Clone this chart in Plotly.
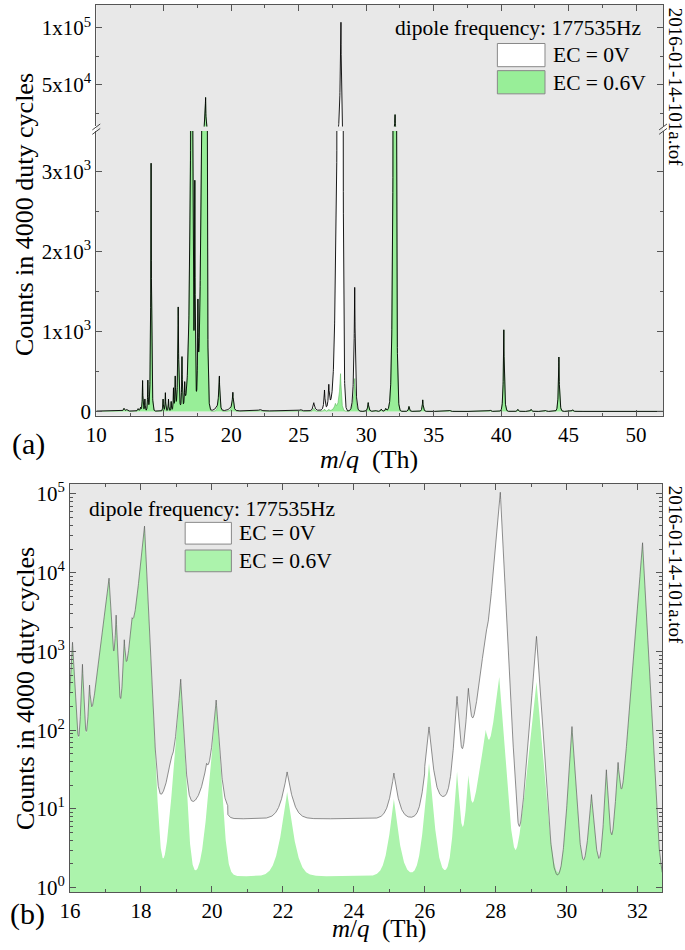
import numpy as np
import plotly.graph_objects as go

# ---------------- data ----------------
# peaks: centre (Th), height for EC = 0V, height for EC = 0.6V (counts),
# left / right exponential fall-off widths (Th)
peak_center = [12.05, 12.25, 13.10, 13.28, 13.43, 13.60, 13.82, 14.06, 14.95, 15.12,
               15.35, 15.55, 15.72, 15.85, 16.07, 16.35, 16.55, 17.10, 17.30, 17.53,
               17.75, 18.10, 18.85, 19.12, 19.85, 20.12, 22.12, 25.13, 26.12, 26.91,
               27.23, 27.72, 28.13, 28.10, 29.15, 29.15, 30.15, 30.70, 31.12, 31.45,
               32.14, 33.17, 34.19, 36.20, 39.20, 40.20, 41.24, 42.22, 43.30, 44.28,
               45.30]
peak_h_ec0 = [35, 20, 30, 45, 380, 150, 380, 3100, 150, 230,
              150, 120, 280, 420, 1300, 660, 280, 8500, 2700, 1100,
              1500, 39000, 25, 430, 20, 230, 22, 21, 97, 250,
              290, 1000, 105000, 0, 1550, 0, 110, 14, 30, 35,
              24000, 62, 144, 15, 18, 1020, 25, 25, 12, 680,
              20]
peak_h_ec06 = [35, 20, 30, 45, 380, 150, 380, 3100, 150, 230,
               150, 120, 280, 420, 1300, 660, 280, 8500, 2700, 1100,
               1500, 39000, 0, 430, 0, 230, 15, 12, 37, 28,
               22, 80, 0, 470, 0, 410, 110, 14, 30, 35,
               24000, 62, 144, 15, 18, 1020, 25, 25, 12, 680,
               20]
peak_w_left = [0.06, 0.06, 0.05, 0.05, 0.03, 0.03, 0.03, 0.04, 0.03, 0.03,
               0.03, 0.03, 0.03, 0.035, 0.05, 0.035, 0.035, 0.12, 0.035, 0.035,
               0.10, 0.10, 0.15, 0.075, 0.15, 0.08, 0.12, 0.10, 0.08, 0.06,
               0.06, 0.15, 0.085, 0.12, 0.075, 0.10, 0.06, 0.07, 0.05, 0.06,
               0.076, 0.05, 0.05, 0.05, 0.05, 0.05, 0.05, 0.05, 0.05, 0.05,
               0.05]
peak_w_right = [0.06, 0.06, 0.05, 0.05, 0.03, 0.03, 0.03, 0.04, 0.03, 0.03,
                0.03, 0.03, 0.03, 0.035, 0.05, 0.035, 0.035, 0.05, 0.035, 0.035,
                0.08, 0.045, 0.15, 0.05, 0.10, 0.06, 0.12, 0.10, 0.08, 0.06,
                0.06, 0.10, 0.048, 0.07, 0.063, 0.08, 0.06, 0.07, 0.05, 0.06,
                0.05, 0.05, 0.05, 0.05, 0.05, 0.05, 0.05, 0.05, 0.05, 0.05,
                0.05]
# background (noise floor) levels between these m/q edges
floor_edges = [10.0, 18.35, 20.45, 26.0, 27.0, 28.55, 29.5, 52.0]
floor_ec0 = [5, 10, 7.5, 13, 8, 2, 1.2]
floor_ec06 = [1.2, 1.4, 1.4, 1.4, 1.3, 1.2, 1.2]

x_ticks_a = [10, 15, 20, 25, 30, 35, 40, 45, 50]
x_minor_a = [12.5, 17.5, 22.5, 27.5, 32.5, 37.5, 42.5, 47.5]
y_ticks_a_low = [0, 1000, 2000, 3000]
y_text_a_low = ["0", "1x10<sup>3</sup>", "2x10<sup>3</sup>", "3x10<sup>3</sup>"]
y_minor_a_low = [500, 1500, 2500]
y_ticks_a_high = [50000, 100000]
y_text_a_high = ["5x10<sup>4</sup>", "1x10<sup>5</sup>"]
y_minor_a_high = [25000, 75000]
x_ticks_b = [16, 18, 20, 22, 24, 26, 28, 30, 32]
x_minor_b = [17, 19, 21, 23, 25, 27, 29, 31]
y_ticks_b = [1, 10, 100, 1000, 10000, 100000]
y_text_b = ["10<sup>0</sup>", "10<sup>1</sup>", "10<sup>2</sup>", "10<sup>3</sup>",
            "10<sup>4</sup>", "10<sup>5</sup>"]

# ---------------- build spectra ----------------
mq = np.union1d(np.round(np.arange(10.0, 52.0001, 0.005), 4), np.array(peak_center))
idx = np.clip(np.searchsorted(floor_edges, mq, side="right") - 1, 0, len(floor_ec0) - 1)


def spectrum(heights, floor):
    y = np.array(floor, dtype=float)[idx]
    for c, h, wl, wr in zip(peak_center, heights, peak_w_left, peak_w_right):
        if h <= 0:
            continue
        d = mq - c
        y = y + h * np.where(d < 0, np.exp(np.clip(d / wl, -700, 0)),
                             np.exp(np.clip(-d / wr, -700, 0)))
    return y


ec0 = spectrum(peak_h_ec0, floor_ec0)
ec06 = spectrum(peak_h_ec06, floor_ec06)

# ---------------- figure ----------------
W, H = 685, 950
FONT = "Liberation Serif, Times New Roman, serif"
GRAY_BG = "#e8e8e8"
GREEN_A = "#98ee98"
GREEN_B = "#acf3ac"
AX = "#555555"


def px(v):
    return v / W


def py(v):
    return 1 - v / H


fig = go.Figure()

for xa, ya in (("x", "y"), ("x2", "y3")):
    fig.add_trace(go.Scatter(x=mq, y=ec0, mode="lines", fill="tozeroy", fillcolor="white",
                             line=dict(width=0, color="white"), xaxis=xa, yaxis=ya,
                             showlegend=False, hoverinfo="skip"))
    fig.add_trace(go.Scatter(x=mq, y=ec06, mode="lines", fill="tozeroy", fillcolor=GREEN_A,
                             line=dict(width=0.6, color="#5cb85c"), xaxis=xa, yaxis=ya,
                             showlegend=False, hoverinfo="skip"))
    fig.add_trace(go.Scatter(x=mq, y=ec0, mode="lines",
                             line=dict(width=0.9, color="black"), xaxis=xa, yaxis=ya,
                             showlegend=False, hoverinfo="skip"))

sel = (mq >= 15.9) & (mq <= 32.8)
fig.add_trace(go.Scatter(x=mq[sel], y=ec0[sel], mode="lines", fill="tozeroy", fillcolor="white",
                         line=dict(width=0, color="white"), xaxis="x3", yaxis="y2",
                         showlegend=False, hoverinfo="skip"))
fig.add_trace(go.Scatter(x=mq[sel], y=ec06[sel], mode="lines", fill="tozeroy", fillcolor=GREEN_B,
                         line=dict(width=0, color=GREEN_B), xaxis="x3", yaxis="y2",
                         showlegend=False, hoverinfo="skip"))
fig.add_trace(go.Scatter(x=mq[sel], y=ec0[sel], mode="lines",
                         line=dict(width=0.8, color="rgba(90,90,90,0.85)"), xaxis="x3", yaxis="y2",
                         showlegend=False, hoverinfo="skip"))

tickfont = dict(family=FONT, size=21, color="black")
common = dict(ticks="inside", ticklen=6, tickwidth=1, tickcolor=AX, showline=True,
              linecolor=AX, linewidth=1, showgrid=False, zeroline=False, tickfont=tickfont)


def minor(vals, n=3):
    return dict(tickmode="array", tickvals=vals, ticks="inside", ticklen=n,
                tickcolor=AX, showgrid=False)


dom_a = [px(86.7), px(662.7)]
dom_b = [px(60), px(661.7)]

fig.update_layout(
    width=W, height=H, margin=dict(l=0, r=0, t=0, b=0),
    paper_bgcolor="white", plot_bgcolor="rgba(0,0,0,0)",
    xaxis=dict(domain=dom_a, range=[10, 52], anchor="y", tickmode="array",
               tickvals=x_ticks_a, minor=minor(x_minor_a), mirror=False, **common),
    xaxis2=dict(domain=dom_a, range=[10, 52], anchor="y3", matches="x", side="top",
                tickmode="array", tickvals=x_ticks_a, showticklabels=False,
                minor=minor(x_minor_a), mirror=False, **common),
    yaxis=dict(domain=[py(417), py(128.5)], range=[-53, 3509], anchor="x", tickmode="array",
               tickvals=y_ticks_a_low, ticktext=y_text_a_low, minor=minor(y_minor_a_low),
               mirror="ticks", **common),
    yaxis3=dict(domain=[py(124), py(1)], range=[13600, 120200], anchor="x2", tickmode="array",
                tickvals=y_ticks_a_high, ticktext=y_text_a_high, minor=minor(y_minor_a_high),
                mirror="ticks", **common),
    xaxis3=dict(domain=dom_b, range=[16, 32.69], anchor="y2", tickmode="array",
                tickvals=x_ticks_b, minor=minor(x_minor_b), mirror="ticks", **common),
    yaxis2=dict(type="log", domain=[py(899.3), py(485.7)], range=[-0.054, 5.132], anchor="x3",
                tickmode="array", tickvals=y_ticks_b, ticktext=y_text_b,
                minor=minor([m * 10 ** e for e in range(0, 5) for m in range(2, 10)]),
                mirror="ticks", **common),
)

shapes = [
    dict(type="rect", xref="paper", yref="paper", x0=px(86.7), x1=px(662.7), y0=py(417), y1=py(1),
         fillcolor=GRAY_BG, line=dict(width=0), layer="below"),
    dict(type="rect", xref="paper", yref="paper", x0=px(60), x1=px(661.7), y0=py(899.3), y1=py(485.7),
         fillcolor=GRAY_BG, line=dict(width=0), layer="below"),
    # legend boxes (a)
    dict(type="rect", xref="paper", yref="paper", x0=px(494.3), x1=px(542.7), y0=py(63.5), y1=py(40),
         fillcolor="white", line=dict(width=1, color="#888888")),
    dict(type="rect", xref="paper", yref="paper", x0=px(494.3), x1=px(542.7), y0=py(91), y1=py(67.5),
         fillcolor=GREEN_A, line=dict(width=1, color="#888888")),
    # legend boxes (b)
    dict(type="rect", xref="paper", yref="paper", x0=px(177), x1=px(224), y0=py(547), y1=py(525),
         fillcolor="white", line=dict(width=1, color="#888888")),
    dict(type="rect", xref="paper", yref="paper", x0=px(177), x1=px(224), y0=py(575), y1=py(553),
         fillcolor=GREEN_B, line=dict(width=1, color="#888888")),
]
for xc in (86.7, 662.7):
    for dy in (0, 4.5):
        shapes.append(dict(type="line", xref="paper", yref="paper",
                           x0=px(xc - 4), y0=py(127.5 + dy), x1=px(xc + 4), y1=py(121.5 + dy),
                           line=dict(width=1, color="#444444")))
fig.update_layout(shapes=shapes)

ann = []


def text(t, x, y, size, xanchor="center", angle=0):
    ann.append(dict(text=t, x=px(x), y=py(y), xref="paper", yref="paper", showarrow=False,
                    xanchor=xanchor, yanchor="middle", textangle=angle,
                    font=dict(family=FONT, size=size, color="black")))


text("Counts in 4000 duty cycles", 14, 213, 26, angle=-90)
text("Counts in 4000 duty cycles", 14, 693, 26, angle=-90)
text("<i>m</i>/<i>q</i>&nbsp;&nbsp;(Th)", 364, 461, 26)
text("<i>m</i>/<i>q</i>&nbsp;&nbsp;(Th)", 374, 937, 25)
text("(a)", 18, 446, 30)
text("(b)", 17, 922, 30)
text("dipole frequency: 177535Hz", 642, 24, 21.5, xanchor="right")
text("EC = 0V", 549, 52, 21.5, xanchor="left")
text("EC = 0.6V", 549, 80, 21.5, xanchor="left")
text("dipole frequency: 177535Hz", 77, 511, 21.5, xanchor="left")
text("EC = 0V", 230, 536, 21.5, xanchor="left")
text("EC = 0.6V", 230, 564, 21.5, xanchor="left")
text("2016-01-14-101a.tof", 675, 84, 19, angle=90)
text("2016-01-14-101a.tof", 675, 568, 19, angle=90)
fig.update_layout(annotations=ann)

fig.write_html("out.html", config={"displayModeBar": False, "staticPlot": True},
               post_script="document.body.style.margin='0px';document.body.style.padding='0px';")
